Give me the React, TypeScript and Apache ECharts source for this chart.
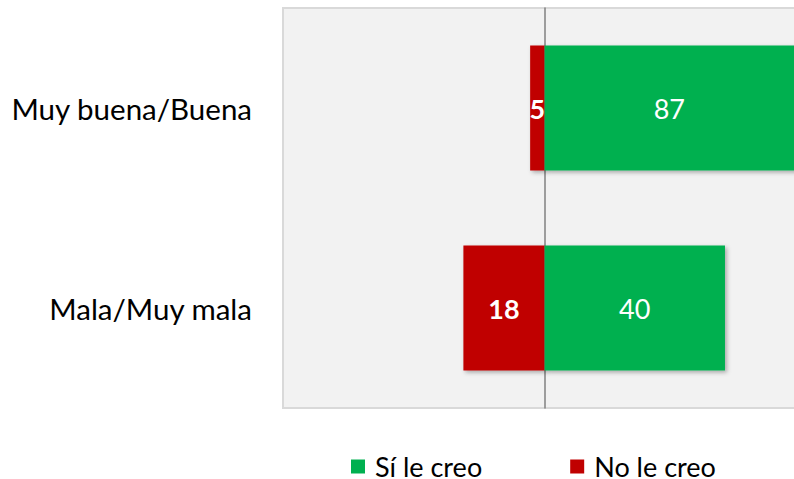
import React, { useEffect, useRef } from "react";
import * as echarts from "echarts";

const categories = ["Muy buena/Buena", "Mala/Muy mala"];
const siValues = [87, 40];
const noValues = [3.2, 18];
const noLabels = ["5", "18"];
const siLabels = ["87", "40"];

export default function App() {
  const ref = useRef<HTMLDivElement>(null);
  useEffect(() => {
    if (!ref.current) return;
    const chart = echarts.init(ref.current, null, { renderer: "svg" });
    const font = "Lato";
    const W = 794;
    const option: any = {
      animation: false,
      grid: {
        left: 283,
        top: 8,
        height: 400,
        width: 158 * 4.51,
        outerBoundsMode: "none",
        containLabel: false,
        show: true,
        backgroundColor: "#f2f2f2",
        borderColor: "#d9d9d9",
        borderWidth: 2,
      },
      legend: {
        left: 351,
        top: 453,
        itemWidth: 14,
        itemHeight: 14,
        itemGap: 88,
        icon: "rect",
        padding: 0,
        data: ["Sí le creo", "No le creo"],
        textStyle: { fontFamily: font, fontSize: 27, lineHeight: 26, color: "#000", padding: [0, 0, 0, 5] },
      },
      xAxis: {
        type: "value",
        min: -58,
        max: 100,
        show: false,
        splitLine: { show: false },
      },
      yAxis: {
        type: "category",
        inverse: true,
        data: categories,
        axisTick: { show: false },
        axisLine: { show: true, onZero: true, lineStyle: { color: "#808080", width: 1.5 } },
        axisLabel: { margin: 31, fontFamily: font, fontSize: 29.5, color: "#000" },
      },
      series: [
        {
          name: "No le creo",
          type: "bar",
          stack: "a",
          barWidth: 125,
          data: noValues.map((v) => -v),
          itemStyle: {
            color: "#c00000",
            shadowBlur: 4,
            shadowOffsetX: 2,
            shadowOffsetY: 2,
            shadowColor: "rgba(0,0,0,0.3)",
          },
          label: {
            show: true,
            position: "inside",
            formatter: (p: any) => noLabels[p.dataIndex],
            color: "#fff",
            fontWeight: "bold",
            fontFamily: font,
            fontSize: 27,
          },
        },
        {
          name: "Sí le creo",
          type: "bar",
          stack: "a",
          barWidth: 125,
          data: siValues.map((v) => ({ value: v })),
          itemStyle: {
            color: "#00b050",
            shadowBlur: 4,
            shadowOffsetX: 2,
            shadowOffsetY: 2,
            shadowColor: "rgba(0,0,0,0.3)",
          },
          label: {
            show: true,
            position: "inside",
            formatter: (p: any) => siLabels[p.dataIndex],
            color: "#fff",
            fontFamily: font,
            fontSize: 27,
          },
        },
      ],
    };
    chart.setOption(option);
    // keep labels centred on the visible part of bars that run past the edge
    const x0 = chart.convertToPixel({ gridIndex: 0 }, [0, 0])[0];
    const newData = siValues.map((v, i) => {
      const xe = chart.convertToPixel({ gridIndex: 0 }, [v, i])[0];
      if (xe > W) {
        const dx = (x0 + W) / 2 - (x0 + xe) / 2;
        return { value: v, label: { offset: [dx, 0] } };
      }
      return { value: v };
    });
    chart.setOption({ series: [{}, { data: newData }] });
    return () => chart.dispose();
  }, []);
  return <div ref={ref} style={{ width: 794, height: 479, position: "absolute", left: 0, top: 0 }} />;
}
